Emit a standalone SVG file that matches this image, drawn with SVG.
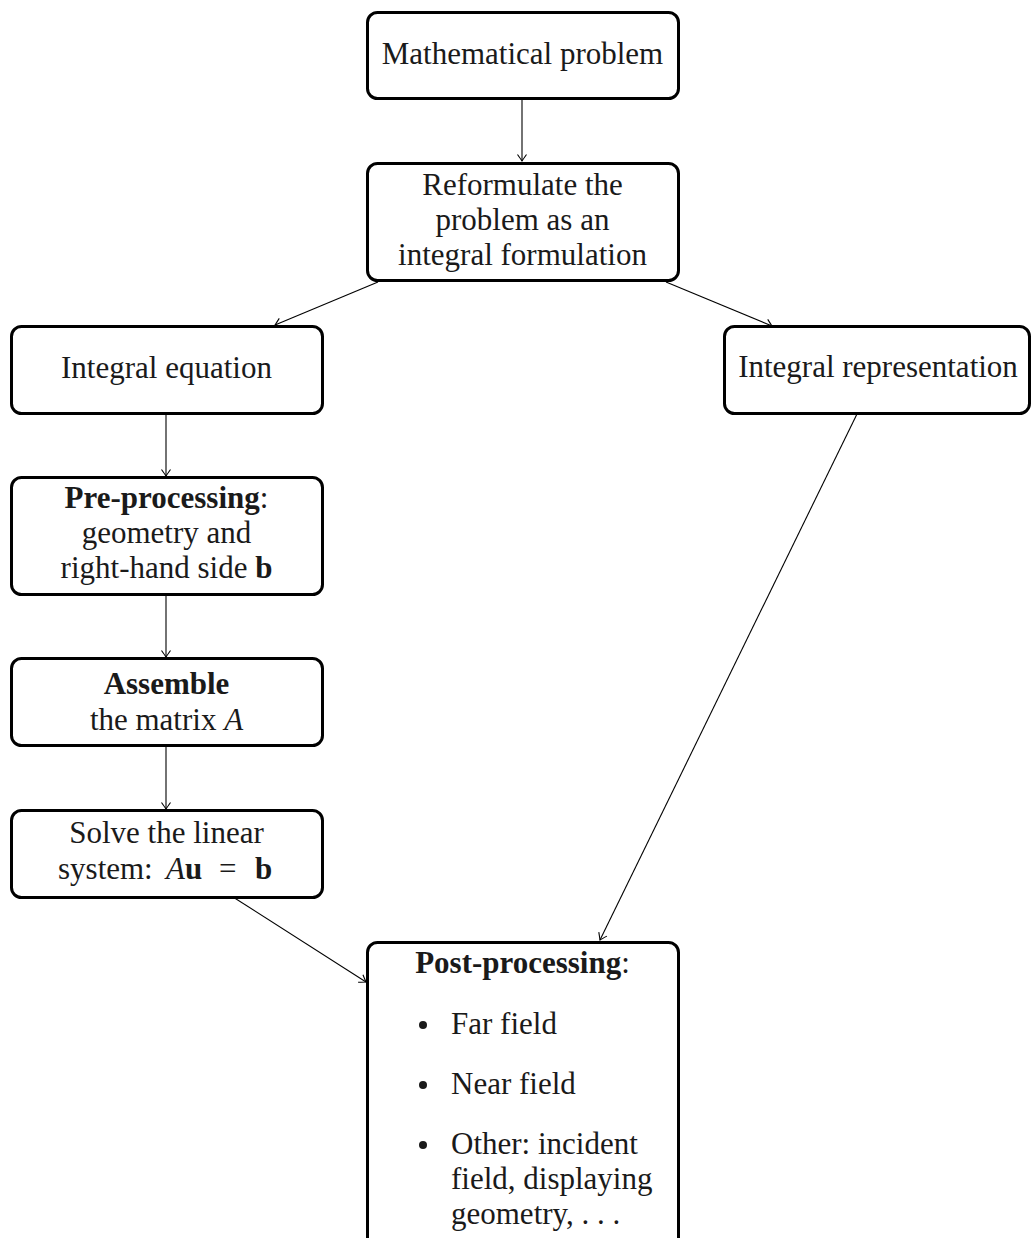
<svg xmlns="http://www.w3.org/2000/svg" width="1031" height="1238" viewBox="0 0 1031 1238">
<defs>
<style>
.box{fill:#fff;stroke:#000;stroke-width:3}
.t{font-family:"Liberation Serif",serif;font-size:31px;fill:#1a1a1a;text-anchor:middle}
.tl{font-family:"Liberation Serif",serif;font-size:31px;fill:#1a1a1a}
.b{font-weight:bold}
.i{font-style:italic}
.e{fill:none;stroke:#000;stroke-width:1.1}
</style>
<marker id="ah" viewBox="-8 -6 10 12" markerWidth="10" markerHeight="12" refX="0" refY="0" orient="auto" markerUnits="userSpaceOnUse">
<path d="M -6.5 -4.5 Q -1.5 -1 0 0 Q -1.5 1 -6.5 4.5" fill="none" stroke="#000" stroke-width="1.1"/>
</marker>
</defs>
<g id="connectors">
<line class="e" x1="522" y1="98" x2="522" y2="161" marker-end="url(#ah)"/>
<line class="e" x1="378" y1="282" x2="275" y2="325" marker-end="url(#ah)"/>
<line class="e" x1="666" y1="282" x2="772" y2="326" marker-end="url(#ah)"/>
<line class="e" x1="857" y1="414" x2="600" y2="940" marker-end="url(#ah)"/>
<line class="e" x1="166" y1="414" x2="166" y2="476" marker-end="url(#ah)"/>
<line class="e" x1="166" y1="595" x2="166" y2="657" marker-end="url(#ah)"/>
<line class="e" x1="166" y1="746" x2="166" y2="809" marker-end="url(#ah)"/>
<line class="e" x1="233" y1="897" x2="366" y2="982" marker-end="url(#ah)"/>
</g>
<g id="n-math">
<rect class="box" x="367.5" y="12.5" width="311" height="86" rx="10"/>
<text class="t" x="522.5" y="64">Mathematical problem</text>
</g>
<g id="n-reform">
<rect class="box" x="367.5" y="163.5" width="311" height="117" rx="10"/>
<text class="t" x="522.5" y="195">Reformulate the</text>
<text class="t" x="522.5" y="230">problem as an</text>
<text class="t" x="522.5" y="265">integral formulation</text>
</g>
<g id="n-inteq">
<rect class="box" x="11.5" y="326.5" width="311" height="87" rx="10"/>
<text class="t" x="166.5" y="378">Integral equation</text>
</g>
<g id="n-intrep">
<rect class="box" x="724.5" y="326.5" width="305" height="87" rx="10"/>
<text class="t" x="878" y="377">Integral representation</text>
</g>
<g id="n-pre">
<rect class="box" x="11.5" y="477.5" width="311" height="117" rx="10"/>
<text class="t" x="166.5" y="508"><tspan class="b">Pre-processing</tspan>:</text>
<text class="t" x="166.5" y="543">geometry and</text>
<text class="t" x="166.5" y="578">right-hand side <tspan class="b">b</tspan></text>
</g>
<g id="n-assemble">
<rect class="box" x="11.5" y="658.5" width="311" height="87" rx="10"/>
<text class="t b" x="166.5" y="694">Assemble</text>
<text class="t" x="166.5" y="730">the matrix <tspan class="i">A</tspan></text>
</g>
<g id="n-solve">
<rect class="box" x="11.5" y="810.5" width="311" height="87" rx="10"/>
<text class="t" x="166.5" y="843">Solve the linear</text>
<text class="tl" y="879"><tspan x="58">system:</tspan><tspan class="i" x="166">A</tspan><tspan class="b">u</tspan><tspan x="219">=</tspan><tspan class="b" x="255">b</tspan></text>
</g>
<g id="n-post">
<rect class="box" x="367.5" y="942.5" width="311" height="320" rx="10"/>
<text class="t" x="522.5" y="973"><tspan class="b">Post-processing</tspan>:</text>
<circle cx="423" cy="1025" r="4" fill="#1a1a1a"/>
<text class="tl" x="451" y="1034">Far field</text>
<circle cx="423" cy="1085" r="4" fill="#1a1a1a"/>
<text class="tl" x="451" y="1094">Near field</text>
<circle cx="423" cy="1145" r="4" fill="#1a1a1a"/>
<text class="tl" x="451" y="1154">Other: incident</text>
<text class="tl" x="451" y="1189">field, displaying</text>
<text class="tl" x="451" y="1224">geometry, . . .</text>
</g>
</svg>
